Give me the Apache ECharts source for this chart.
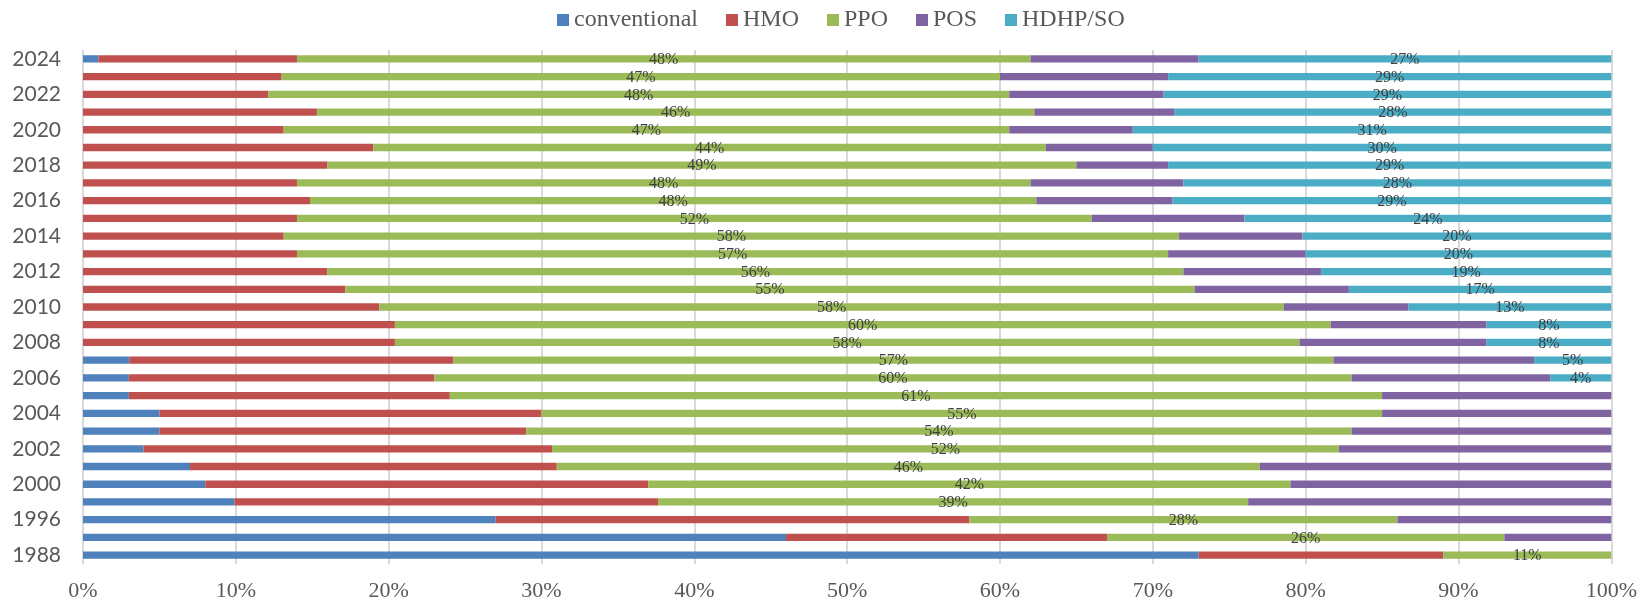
<!DOCTYPE html>
<html>
<head>
<meta charset="utf-8">
<script src="https://cdn.jsdelivr.net/npm/echarts@6/dist/echarts.min.js"></script>
<style>
html,body{margin:0;padding:0;background:#fff;}
#chart{width:1640px;height:602px;}
</style>
</head>
<body>
<div id="chart"></div>
<script>
const years = ['1988','1993','1996','1999','2000','2001','2002','2003','2004','2005','2006','2007','2008','2009','2010','2011','2012','2013','2014','2015','2016','2017','2018','2019','2020','2021','2022','2023','2024'];
const conventional = [73,46,27,10,8,7,4,5,5,3,3,3,0,0,0,0,0,0,0,0,0,0,0,0,0,0,0,0,1];
const hmo = [16,21,31,28,29,24,27,24,25,21,20,21,20,20,19,17,16,14,13,14,15,14,16,19,13,15,12,13,13];
const ppo = [11,26,28,39,42,46,52,54,55,61,60,57,58,60,58,55,56,57,58,52,48,48,49,44,47,46,48,47,48];
const pos = [0,7,14,24,21,23,18,17,15,15,13,13,12,10,8,10,9,9,8,10,9,10,6,7,8,9,10,11,11];
const hdhp = [0,0,0,0,0,0,0,0,0,0,4,5,8,8,13,17,19,20,20,24,29,28,29,30,31,28,29,29,27];
const seriesNames = ['conventional','HMO','PPO','POS','HDHP/SO'];
const xTickLabels = ['0%','10%','20%','30%','40%','50%','60%','70%','80%','90%','100%'];

const raw = [conventional, hmo, ppo, pos, hdhp];
const colors = ['#4F81BD','#C0504D','#9BBB59','#8064A2','#4BACC6'];
const totals = years.map((_, i) => raw.reduce((s, arr) => s + arr[i], 0));
const showLabel = [false, false, true, false, true];

const chart = echarts.init(document.getElementById('chart'), null, {renderer: 'canvas'});
chart.setOption({
  animation: false,
  color: colors,
  legend: {
    top: 3,
    left: 552,
    itemWidth: 12,
    itemHeight: 12,
    itemGap: 28,
    icon: 'rect',
    textStyle: {fontFamily: 'Liberation Serif', fontSize: 24, color: '#595959'},
    data: seriesNames
  },
  grid: {left: 83, right: 28, top: 50, bottom: 38, containLabel: false},
  xAxis: {
    type: 'value', min: 0, max: 100, interval: 10,
    axisLine: {show: false}, axisTick: {show: false},
    splitLine: {show: true, lineStyle: {color: '#D9D9D9', width: 2}},
    axisLabel: {
      margin: 16,
      fontFamily: 'Liberation Serif', fontSize: 22, color: '#595959',
      formatter: v => xTickLabels[Math.round(v / 10)]
    }
  },
  yAxis: {
    type: 'category', data: years,
    axisLine: {show: false}, axisTick: {show: false},
    axisLabel: {interval: 1, margin: 22, fontFamily: 'Lato', fontSize: 21, color: '#595959'}
  },
  series: raw.map((arr, k) => ({
    name: seriesNames[k],
    type: 'bar',
    stack: 'total',
    barWidth: 7.3,
    data: arr.map((v, i) => v * 100 / totals[i]),
    label: {
      show: showLabel[k],
      position: 'inside',
      offset: [0, 1],
      fontFamily: 'Liberation Serif', fontSize: 16, color: '#404040',
      formatter: p => arr[p.dataIndex] > 0 ? arr[p.dataIndex] + '%' : ''
    }
  }))
});
</script>
</body>
</html>
